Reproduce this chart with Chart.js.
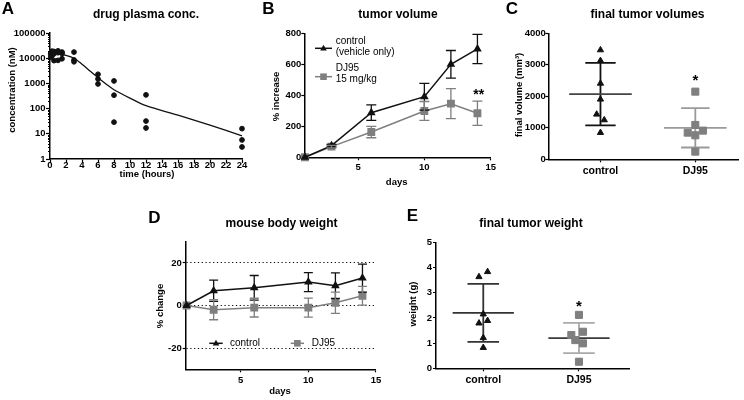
<!DOCTYPE html>
<html>
<head>
<meta charset="utf-8">
<script src="https://cdn.jsdelivr.net/npm/chart.js@4.4.1/dist/chart.umd.min.js"></script>
<style>
  body { margin: 0; background: #fff; }
  canvas { position: absolute; left: 0; top: 0; }
</style>
</head>
<body>
<canvas id="cA" width="744" height="400"></canvas>
<canvas id="cB" width="744" height="400"></canvas>
<canvas id="cC" width="744" height="400"></canvas>
<canvas id="cD" width="744" height="400"></canvas>
<canvas id="cE" width="744" height="400"></canvas>
<script>
// A: drug plasma conc. (individual samples + fitted curve)
const pkTime = [0.1, 0.1, 0.1, 0.25, 0.25, 0.25, 0.5, 0.5, 0.5, 1, 1, 1, 1.5, 1.5, 1.5,
                3, 3, 3, 6, 6, 6, 8, 8, 8, 12, 12, 12, 24, 24, 24];
const pkConc = [11000, 14000, 16000, 12500, 17000, 19000, 8000, 15000, 18500, 8200, 16500, 19500, 9500, 15500, 17500,
                17500, 8500, 7200, 2300, 1500, 950, 1250, 340, 29, 350, 32, 17, 16, 5.7, 3];
const fitTime = [0, 1, 2, 3, 4, 5, 6, 7, 8, 10, 12, 16, 20, 24];
const fitConc = [15500, 15000, 13000, 10000, 5800, 3100, 1700, 950, 560, 260, 130, 55, 22, 8.3];
const pkYTicks = [1, 10, 100, 1000, 10000, 100000];
const pkXTicks = [0, 2, 4, 6, 8, 10, 12, 14, 16, 18, 20, 22, 24];

// B: tumor volume (% increase, mean +/- error)
const tvDays = [1, 3, 6, 10, 12, 14];
const tvCtrl = [0, 75, 288, 391, 600, 699];
const tvCtrlErr = [0, 8, 50, 86, 89, 94];
const tvDj = [0, 69, 163, 299, 346, 284];
const tvDjErr = [0, 8, 37, 61, 97, 78];
const tvYTicks = [0, 200, 400, 600, 800];
const dayTicks = [5, 10, 15];

// C: final tumor volumes
const catNames = ['control', 'DJ95'];
const volCtrl = [3470, 3130, 2410, 1905, 1428, 1248, 846];
const volCtrlX = [1, 1, 1, 1, 0.96, 1.04, 1];
const volDj = [2148, 1090, 846, 910, 762, 243];
const volDjX = [2, 2, 1.92, 2.08, 2, 2];
const volMean = [2070, 1000];
const volSd = [990, 625];
const volYTicks = [0, 1000, 2000, 3000, 4000];

// D: mouse body weight (% change)
const bwDays = [1, 3, 6, 10, 12, 14];
const bwCtrl = [0, 6.9, 8.3, 11, 9.3, 12.9];
const bwCtrlErr = [0, 5, 5.8, 4.5, 6, 6.6];
const bwDj = [0, -2, -1, -1, 1.3, 4.6];
const bwDjErr = [0, 4.7, 4.4, 4.5, 5, 4.4];
const bwYTicks = [-20, 0, 20];

// E: final tumor weight
const wCtrl = [3.83, 3.63, 2.15, 1.89, 1.79, 1.21, 0.82];
const wCtrlX = [1.045, 0.955, 1, 1.045, 0.955, 1, 1];
const wDj = [2.12, 1.45, 1.32, 1.12, 0.99, 0.26];
const wDjX = [2, 2.042, 1.92, 1.962, 2.042, 2];
const wMean = [2.2, 1.2];
const wSd = [1.15, 0.6];
const wYTicks = [0, 1, 2, 3, 4, 5];

const FONT = '"Liberation Sans", Arial, Helvetica, sans-serif';
const BLACK = '#111';
const GRAY = '#7f7f7f';
const tickFont = { family: FONT, size: 9.5, weight: 'bold', lineHeight: 1 };
const catFont = { family: FONT, size: 10.5, weight: 'bold', lineHeight: 1 };

const pts = (xs, ys) => xs.map((x, i) => ({ x: x, y: ys[i] }));

// text drawn at page positions, or at data positions when dx/dy given
const textPlugin = {
  id: 'texts',
  afterDraw(chart, args, opts) {
    const ctx = chart.ctx;
    (opts.items || []).forEach(t => {
      const x = t.dx !== undefined ? chart.scales.x.getPixelForValue(t.dx) : t.x;
      const y = t.dy !== undefined ? chart.scales.y.getPixelForValue(t.dy) : t.y;
      ctx.save();
      ctx.font = t.font || ('bold 9.5px ' + FONT);
      ctx.fillStyle = '#000';
      ctx.textAlign = t.align || 'center';
      ctx.textBaseline = 'middle';
      ctx.translate(x, y);
      if (t.rot) ctx.rotate(t.rot);
      ctx.fillText(t.text, 0, 0);
      ctx.restore();
    });
  }
};

const errorBarPlugin = {
  id: 'errorBars',
  afterDatasetsDraw(chart, args, opts) {
    const { ctx, scales: { x, y } } = chart;
    (opts.sets || []).forEach(set => {
      const ds = chart.data.datasets[set.index];
      ctx.save();
      ctx.strokeStyle = set.color;
      ctx.lineWidth = 1.3;
      ds.data.forEach((p, i) => {
        const e = set.err[i];
        if (!e) return;
        const px = x.getPixelForValue(p.x);
        const top = y.getPixelForValue(p.y + e);
        const bot = y.getPixelForValue(p.y - e);
        ctx.beginPath();
        ctx.moveTo(px, top); ctx.lineTo(px, bot);
        ctx.moveTo(px - set.cap, top); ctx.lineTo(px + set.cap, top);
        ctx.moveTo(px - set.cap, bot); ctx.lineTo(px + set.cap, bot);
        ctx.stroke();
      });
      ctx.restore();
    });
  }
};

// mean line with SD whiskers for the scatter panels
const summaryPlugin = {
  id: 'summary',
  beforeDatasetsDraw(chart, args, opts) {
    const { ctx, scales: { x, y } } = chart;
    (opts.sets || []).forEach(s => {
      const hi = y.getPixelForValue(s.mean + s.sd);
      const lo = y.getPixelForValue(s.mean - s.sd);
      const m = y.getPixelForValue(s.mean);
      const cx = x.getPixelForValue(s.cat);
      ctx.save();
      ctx.lineWidth = 1.8;
      ctx.strokeStyle = s.sdColor;
      ctx.beginPath();
      ctx.moveTo(cx, hi); ctx.lineTo(cx, lo);
      ctx.moveTo(x.getPixelForValue(s.cat - s.cap), hi); ctx.lineTo(x.getPixelForValue(s.cat + s.cap), hi);
      ctx.moveTo(x.getPixelForValue(s.cat - s.cap), lo); ctx.lineTo(x.getPixelForValue(s.cat + s.cap), lo);
      ctx.stroke();
      ctx.strokeStyle = s.meanColor;
      ctx.beginPath();
      ctx.moveTo(x.getPixelForValue(s.cat - s.half), m); ctx.lineTo(x.getPixelForValue(s.cat + s.half), m);
      ctx.stroke();
      ctx.restore();
    });
  }
};

// small legend samples (line + marker)
const legendPlugin = {
  id: 'legendMarks',
  afterDraw(chart, args, opts) {
    const ctx = chart.ctx;
    (opts.items || []).forEach(it => {
      ctx.save();
      ctx.strokeStyle = it.color;
      ctx.fillStyle = it.color;
      ctx.lineWidth = 1.5;
      ctx.beginPath(); ctx.moveTo(it.x1, it.y); ctx.lineTo(it.x2, it.y); ctx.stroke();
      const cx = (it.x1 + it.x2) / 2;
      ctx.beginPath();
      if (it.style === 'triangle') {
        ctx.moveTo(cx, it.y - 3.5); ctx.lineTo(cx + 3.3, it.y + 2.3); ctx.lineTo(cx - 3.3, it.y + 2.3);
      } else {
        ctx.rect(cx - 3.3, it.y - 3.3, 6.6, 6.6);
      }
      ctx.fill();
      ctx.restore();
    });
  }
};

Chart.register(textPlugin, errorBarPlugin, summaryPlugin, legendPlugin);

function axis(pos, o) {
  return Object.assign({
    type: 'linear',
    position: pos,
    min: o.min,
    max: o.max,
    afterBuildTicks: s => { s.ticks = o.ticks.map(v => ({ value: v })); },
    afterFit: s => {
      if (pos === 'left') s.width = 40; else s.height = 20;
      s.paddingLeft = s.paddingRight = s.paddingTop = s.paddingBottom = 0;
    },
    border: { display: true, color: '#000', width: 1.5 },
    grid: { display: true, drawOnChartArea: false, drawTicks: true, tickLength: o.tl || 3, tickColor: '#000', tickWidth: 1.2 },
    ticks: { color: '#000', font: o.font || tickFont, padding: o.pad, autoSkip: false, maxRotation: 0,
             callback: o.cb || (v => String(v)) }
  }, o.extra || {});
}

// place the plot area at page pixels (left, top, right, bottom)
function area(l, t, r, b) {
  return { padding: { left: l - 40, top: t, right: 744 - r, bottom: 400 - b - 20 } };
}

function base(layout, scales, datasets, plugins) {
  return {
    type: 'scatter',
    data: { datasets: datasets },
    options: {
      responsive: false,
      animation: false,
      events: [],
      layout: layout,
      scales: scales,
      plugins: Object.assign({ legend: { display: false }, tooltip: { enabled: false } }, plugins)
    }
  };
}

const bold12 = 'bold 12px ' + FONT;
const letter = 'bold 17px ' + FONT;
const axisTitle = 'bold 9.5px ' + FONT;
const legendFont = '10px ' + FONT;
const ROT = -Math.PI / 2;

// ---- A
const minorTicks = {
  id: 'minorTicks',
  afterDraw(chart) {
    const { ctx, scales: { y }, chartArea } = chart;
    ctx.save();
    ctx.strokeStyle = '#000';
    ctx.lineWidth = 1;
    ctx.beginPath();
    for (let p = 0; p < 5; p++) {
      for (let k = 2; k < 10; k++) {
        const py = Math.round(y.getPixelForValue(k * Math.pow(10, p))) + 0.5;
        ctx.moveTo(chartArea.left - 2, py); ctx.lineTo(chartArea.left, py);
      }
    }
    ctx.stroke();
    ctx.restore();
  }
};
const cfgA = base(area(50, 33, 242, 159), {
  x: axis('bottom', { min: 0, max: 24, ticks: pkXTicks, tl: 4, pad: -2.5 }),
  y: axis('left', { min: 1, max: 100000, ticks: pkYTicks, tl: 4, pad: 0.5, extra: { type: 'logarithmic' } })
}, [
  { data: pts(pkTime, pkConc), pointStyle: 'circle', pointRadius: 2.4, backgroundColor: BLACK, borderColor: BLACK, clip: false },
  { data: pts(fitTime, fitConc), showLine: true, pointRadius: 0, borderColor: BLACK, borderWidth: 1.3, tension: 0.3, clip: false }
], {
  texts: { items: [
    { text: 'A', x: 8, y: 9.5, font: letter },
    { text: 'drug plasma conc.', x: 146, y: 15, font: bold12 },
    { text: 'concentration (nM)', x: 12.5, y: 90, rot: ROT, font: axisTitle },
    { text: 'time (hours)', x: 147, y: 174, font: axisTitle }
  ] }
});
cfgA.plugins = [minorTicks];
new Chart(document.getElementById('cA'), cfgA);

// ---- B
new Chart(document.getElementById('cB'), base(area(304.3, 33.3, 490.7, 157.3), {
  x: axis('bottom', { min: 0.95, max: 15, ticks: dayTicks, tl: 3, pad: 2.5 }),
  y: axis('left', { min: 0, max: 800, ticks: tvYTicks, tl: 3, pad: 0 })
}, [
  { data: pts(tvDays, tvCtrl), showLine: true, borderColor: BLACK, backgroundColor: BLACK, borderWidth: 1.5,
    pointStyle: 'triangle', pointRadius: 3.5, clip: false },
  { data: pts(tvDays, tvDj), showLine: true, borderColor: GRAY, backgroundColor: GRAY, borderWidth: 1.5,
    pointStyle: 'rect', pointRadius: 4.5, clip: false }
], {
  errorBars: { sets: [
    { index: 0, err: tvCtrlErr, color: BLACK, cap: 5 },
    { index: 1, err: tvDjErr, color: GRAY, cap: 5 }
  ] },
  legendMarks: { items: [
    { x1: 315, x2: 332, y: 48.3, color: BLACK, style: 'triangle' },
    { x1: 315, x2: 332, y: 76.7, color: GRAY, style: 'rect' }
  ] },
  texts: { items: [
    { text: 'B', x: 268.5, y: 9.5, font: letter },
    { text: 'tumor volume', x: 398, y: 15, font: bold12 },
    { text: '% increase', x: 276.7, y: 96.5, rot: ROT, font: axisTitle },
    { text: 'days', x: 396.7, y: 182, font: axisTitle },
    { text: 'control', x: 335.7, y: 41.7, align: 'left', font: legendFont },
    { text: '(vehicle only)', x: 335.7, y: 52.7, align: 'left', font: legendFont },
    { text: 'DJ95', x: 335.7, y: 68.3, align: 'left', font: legendFont },
    { text: '15 mg/kg', x: 335.7, y: 79.3, align: 'left', font: legendFont },
    { text: '**', dx: 14.1, dy: 400, font: 'bold 14px ' + FONT }
  ] }
}));

// ---- C
new Chart(document.getElementById('cC'), base(area(548.3, 33.3, 738.3, 159.3), {
  x: axis('bottom', { min: 0.45, max: 2.45, ticks: [1, 2], tl: 3, pad: 4, font: catFont, cb: v => catNames[v - 1] }),
  y: axis('left', { min: 0, max: 4000, ticks: volYTicks, tl: 3, pad: -0.5 })
}, [
  { data: pts(volCtrlX, volCtrl), pointStyle: 'triangle', pointRadius: 3.6, backgroundColor: BLACK, borderColor: BLACK, clip: false },
  { data: pts(volDjX, volDj), pointStyle: 'rect', pointRadius: 5, backgroundColor: GRAY, borderColor: GRAY, clip: false }
], {
  summary: { sets: [
    { cat: 1, mean: volMean[0], sd: volSd[0], half: 0.33, cap: 0.16, meanColor: '#444', sdColor: BLACK },
    { cat: 2, mean: volMean[1], sd: volSd[1], half: 0.33, cap: 0.15, meanColor: '#9a9a9a', sdColor: '#9a9a9a' }
  ] },
  texts: { items: [
    { text: 'C', x: 512, y: 9.5, font: letter },
    { text: 'final tumor volumes', x: 647.5, y: 15, font: bold12 },
    { text: 'final volume (mm³)', x: 519, y: 95, rot: ROT, font: axisTitle },
    { text: '*', dx: 2, dy: 2500, font: 'bold 15px ' + FONT }
  ] }
}));

// ---- D
new Chart(document.getElementById('cD'), base(area(185.7, 241.7, 376, 369.3), {
  x: axis('bottom', { min: 0.935, max: 15, ticks: dayTicks, tl: 3, pad: 3.5 }),
  y: axis('left', { min: -30, max: 30, ticks: bwYTicks, tl: 3, pad: 1, extra: {
    border: { display: true, color: '#000', width: 1.5, dash: [1.2, 2.6] },
    grid: { display: true, drawOnChartArea: true, drawTicks: true, tickLength: 3, color: '#000', tickColor: '#000',
            lineWidth: 1, tickWidth: 1.2, tickBorderDash: [] } } })
}, [
  { data: pts(bwDays, bwCtrl), showLine: true, borderColor: BLACK, backgroundColor: BLACK, borderWidth: 1.5,
    pointStyle: 'triangle', pointRadius: 3.5, clip: false },
  { data: pts(bwDays, bwDj), showLine: true, borderColor: GRAY, backgroundColor: GRAY, borderWidth: 1.5,
    pointStyle: 'rect', pointRadius: 4.5, clip: false }
], {
  errorBars: { sets: [
    { index: 0, err: bwCtrlErr, color: BLACK, cap: 4.5 },
    { index: 1, err: bwDjErr, color: GRAY, cap: 4.5 }
  ] },
  legendMarks: { items: [
    { x1: 209.3, x2: 222.7, y: 343.3, color: BLACK, style: 'triangle' },
    { x1: 290.7, x2: 304, y: 343.3, color: GRAY, style: 'rect' }
  ] },
  texts: { items: [
    { text: 'D', x: 154.5, y: 218, font: letter },
    { text: 'mouse body weight', x: 281.5, y: 223.3, font: bold12 },
    { text: '% change', x: 160.5, y: 306, rot: ROT, font: axisTitle },
    { text: 'days', x: 280, y: 391.7, font: axisTitle },
    { text: 'control', x: 230, y: 343.3, align: 'left', font: legendFont },
    { text: 'DJ95', x: 311.7, y: 343.3, align: 'left', font: legendFont }
  ] }
}));

// ---- E
new Chart(document.getElementById('cE'), base(area(436, 242.3, 629.7, 368.3), {
  x: axis('bottom', { min: 0.506, max: 2.53, ticks: [1, 2], tl: 3, pad: 3.5, font: catFont, cb: v => catNames[v - 1] }),
  y: axis('left', { min: 0, max: 5, ticks: wYTicks, tl: 3, pad: 1 })
}, [
  { data: pts(wCtrlX, wCtrl), pointStyle: 'triangle', pointRadius: 3.6, backgroundColor: BLACK, borderColor: BLACK, clip: false },
  { data: pts(wDjX, wDj), pointStyle: 'rect', pointRadius: 5, backgroundColor: GRAY, borderColor: GRAY, clip: false }
], {
  summary: { sets: [
    { cat: 1, mean: wMean[0], sd: wSd[0], half: 0.32, cap: 0.165, meanColor: '#333', sdColor: '#333' },
    { cat: 2, mean: wMean[1], sd: wSd[1], half: 0.32, cap: 0.165, meanColor: '#3a3a3a', sdColor: '#aaa' }
  ] },
  texts: { items: [
    { text: 'E', x: 412.5, y: 216, font: letter },
    { text: 'final tumor weight', x: 531, y: 223.3, font: bold12 },
    { text: 'weight (g)', x: 413.7, y: 304, rot: ROT, font: axisTitle },
    { text: '*', dx: 2, dy: 2.42, font: 'bold 15px ' + FONT }
  ] }
}));
</script>
</body>
</html>
